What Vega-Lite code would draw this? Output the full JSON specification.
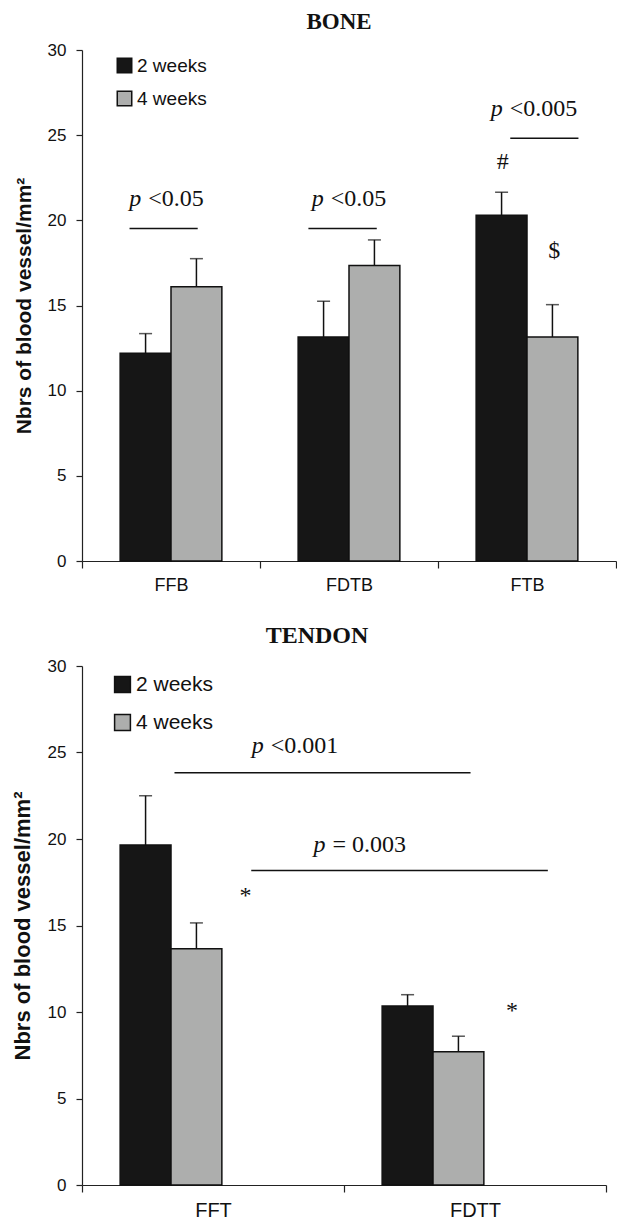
{
  "$schema": "https://vega.github.io/schema/vega-lite/v6.json",
  "padding": {"left": 11, "top": 11, "right": 0, "bottom": 0},
  "background": "white",
  "spacing": 30,
  "resolve": {"scale": {"color": "independent"}, "legend": {"color": "independent"}},
  "datasets": {
    "bone": [
      {"site": "FFB", "period": "2 weeks", "mean": 12.2, "upper": 13.35},
      {"site": "FFB", "period": "4 weeks", "mean": 16.1, "upper": 17.75},
      {"site": "FDTB", "period": "2 weeks", "mean": 13.15, "upper": 15.25},
      {"site": "FDTB", "period": "4 weeks", "mean": 17.35, "upper": 18.85},
      {"site": "FTB", "period": "2 weeks", "mean": 20.3, "upper": 21.65},
      {"site": "FTB", "period": "4 weeks", "mean": 13.15, "upper": 15.05}
    ],
    "boneNotes": [
      {"x": 0.353, "y": 20.85, "p": "p", "rest": "<0.05"},
      {"x": 1.378, "y": 20.85, "p": "p", "rest": "<0.05"},
      {"x": 2.383, "y": 26.13, "p": "p", "rest": "<0.005"}
    ],
    "boneLines": [
      {"x": 0.267, "x2": 0.65, "y": 19.52},
      {"x": 1.272, "x2": 1.656, "y": 19.52},
      {"x": 2.406, "x2": 2.789, "y": 24.82}
    ],
    "boneSyms": [
      {"x": 2.364, "y": 23.4, "sym": "#"},
      {"x": 2.653, "y": 18.2, "sym": "$"}
    ],
    "tendon": [
      {"site": "FFT", "period": "2 weeks", "mean": 19.65, "upper": 22.5},
      {"site": "FFT", "period": "4 weeks", "mean": 13.65, "upper": 15.15},
      {"site": "FDTT", "period": "2 weeks", "mean": 10.35, "upper": 11.0},
      {"site": "FDTT", "period": "4 weeks", "mean": 7.7, "upper": 8.6}
    ],
    "tendonNotes": [
      {"x": 0.707, "y": 24.96, "p": "p", "rest": "<0.001"},
      {"x": 0.943, "y": 19.24, "p": "p", "rest": "= 0.003"}
    ],
    "tendonLines": [
      {"x": 0.353, "x2": 1.483, "y": 23.83},
      {"x": 0.646, "x2": 1.778, "y": 18.18}
    ],
    "tendonSyms": [
      {"x": 0.624, "y": 16.7, "sym": "*"},
      {"x": 1.641, "y": 10.08, "sym": "*"}
    ]
  },
  "config": {
    "view": {"stroke": null},
    "axis": {"grid": false, "labelFont": "Liberation Sans", "labelColor": "#111", "domainColor": "#222", "tickColor": "#222", "domainWidth": 1.2, "tickWidth": 1.2, "titleFont": "Liberation Sans", "titleColor": "#111"},
    "axisY": {"tickSize": 6, "labelPadding": 10, "labelFontSize": 17, "titleFontWeight": "bold", "titleFontSize": 21, "titlePadding": 13},
    "axisX": {"tickBand": "extent", "labelAngle": 0, "tickSize": 7, "labelPadding": 8, "labelFontSize": 18, "title": null},
    "title": {"font": "Liberation Serif", "fontWeight": "bold", "fontSize": 23, "color": "#111"},
    "legend": {"symbolType": "square", "symbolSize": 210, "symbolStrokeColor": "#111", "symbolStrokeWidth": 1.5, "labelFont": "Liberation Sans", "labelFontSize": 19, "labelColor": "#111", "labelOffset": 3, "rowPadding": 12, "padding": 0}
  },
  "vconcat": [
    {
      "title": {"text": "BONE", "dx": -10, "offset": 7},
      "width": 534,
      "height": 511,
      "layer": [
        {
          "data": {"name": "bone"},
          "layer": [
            {
              "mark": {"type": "bar", "stroke": "#111", "strokeWidth": 1.5},
              "encoding": {
                "x": {"field": "site", "type": "nominal", "sort": ["FFB", "FDTB", "FTB"], "scale": {"paddingInner": 0, "paddingOuter": 0}},
                "xOffset": {"field": "period", "type": "nominal", "scale": {"paddingOuter": 0.75, "paddingInner": 0}},
                "y": {"field": "mean", "type": "quantitative", "scale": {"domain": [0, 30], "nice": false}, "title": "Nbrs of blood vessel/mm²", "axis": {"values": [0, 5, 10, 15, 20, 25, 30]}},
                "color": {"field": "period", "type": "nominal", "scale": {"domain": ["2 weeks", "4 weeks"], "range": ["#161616", "#adaead"]}, "legend": {"title": null, "orient": "none", "legendX": 33, "legendY": 6}}
              }
            },
            {
              "mark": {"type": "rule", "color": "#111", "strokeWidth": 1.5},
              "encoding": {
                "x": {"field": "site", "type": "nominal", "sort": ["FFB", "FDTB", "FTB"]},
                "xOffset": {"field": "period", "type": "nominal"},
                "y": {"field": "mean", "type": "quantitative", "title": "Nbrs of blood vessel/mm²"},
                "y2": {"field": "upper"}
              }
            },
            {
              "mark": {"type": "tick", "color": "#111", "size": 13, "thickness": 1.5, "orient": "horizontal"},
              "encoding": {
                "x": {"field": "site", "type": "nominal", "sort": ["FFB", "FDTB", "FTB"]},
                "xOffset": {"field": "period", "type": "nominal"},
                "y": {"field": "upper", "type": "quantitative", "title": "Nbrs of blood vessel/mm²"}
              }
            }
          ]
        },
        {
          "layer": [
            {
              "data": {"name": "boneLines"},
              "mark": {"type": "rule", "color": "#111", "strokeWidth": 1.5},
              "encoding": {
                "x": {"field": "x", "type": "quantitative", "scale": {"domain": [0, 3], "nice": false, "zero": false}, "axis": null},
                "x2": {"field": "x2"},
                "y": {"field": "y", "type": "quantitative", "title": "Nbrs of blood vessel/mm²"}
              }
            },
            {
              "data": {"name": "boneNotes"},
              "mark": {"type": "text", "font": "Liberation Serif", "fontSize": 24, "fontStyle": "italic", "align": "right", "baseline": "alphabetic", "dx": -3.5, "fill": "#111"},
              "encoding": {
                "x": {"field": "x", "type": "quantitative"},
                "y": {"field": "y", "type": "quantitative", "title": "Nbrs of blood vessel/mm²"},
                "text": {"field": "p"}
              }
            },
            {
              "data": {"name": "boneNotes"},
              "mark": {"type": "text", "font": "Liberation Serif", "fontSize": 24, "align": "left", "baseline": "alphabetic", "dx": 3.5, "fill": "#111"},
              "encoding": {
                "x": {"field": "x", "type": "quantitative"},
                "y": {"field": "y", "type": "quantitative", "title": "Nbrs of blood vessel/mm²"},
                "text": {"field": "rest"}
              }
            },
            {
              "data": {"name": "boneSyms"},
              "mark": {"type": "text", "font": "Liberation Serif", "fontSize": 24, "align": "center", "baseline": "middle", "fill": "#111"},
              "encoding": {
                "x": {"field": "x", "type": "quantitative"},
                "y": {"field": "y", "type": "quantitative", "title": "Nbrs of blood vessel/mm²"},
                "text": {"field": "sym"}
              }
            }
          ]
        }
      ],
      "resolve": {"scale": {"x": "independent"}}
    },
    {
      "title": {"text": "TENDON", "dx": -27, "offset": 9, "fontSize": 24},
      "width": 524,
      "height": 519,
      "layer": [
        {
          "data": {"name": "tendon"},
          "layer": [
            {
              "mark": {"type": "bar", "stroke": "#111", "strokeWidth": 1.5},
              "encoding": {
                "x": {"field": "site", "type": "nominal", "sort": ["FFT", "FDTT"], "scale": {"paddingInner": 0, "paddingOuter": 0}, "axis": {"labelFontSize": 20}},
                "xOffset": {"field": "period", "type": "nominal", "scale": {"paddingOuter": 0.73, "paddingInner": 0}},
                "y": {"field": "mean", "type": "quantitative", "scale": {"domain": [0, 30], "nice": false}, "title": "Nbrs of blood vessel/mm²", "axis": {"titleFontSize": 22, "values": [0, 5, 10, 15, 20, 25, 30]}},
                "color": {"field": "period", "type": "nominal", "scale": {"domain": ["2 weeks", "4 weeks"], "range": ["#161616", "#adaead"]}, "legend": {"title": null, "orient": "none", "legendX": 30, "legendY": 8, "labelFontSize": 21, "symbolSize": 250, "rowPadding": 15}}
              }
            },
            {
              "mark": {"type": "rule", "color": "#111", "strokeWidth": 1.5},
              "encoding": {
                "x": {"field": "site", "type": "nominal", "sort": ["FFT", "FDTT"]},
                "xOffset": {"field": "period", "type": "nominal"},
                "y": {"field": "mean", "type": "quantitative", "title": "Nbrs of blood vessel/mm²"},
                "y2": {"field": "upper"}
              }
            },
            {
              "mark": {"type": "tick", "color": "#111", "size": 13, "thickness": 1.5, "orient": "horizontal"},
              "encoding": {
                "x": {"field": "site", "type": "nominal", "sort": ["FFT", "FDTT"]},
                "xOffset": {"field": "period", "type": "nominal"},
                "y": {"field": "upper", "type": "quantitative", "title": "Nbrs of blood vessel/mm²"}
              }
            }
          ]
        },
        {
          "layer": [
            {
              "data": {"name": "tendonLines"},
              "mark": {"type": "rule", "color": "#111", "strokeWidth": 1.5},
              "encoding": {
                "x": {"field": "x", "type": "quantitative", "scale": {"domain": [0, 2], "nice": false, "zero": false}, "axis": null},
                "x2": {"field": "x2"},
                "y": {"field": "y", "type": "quantitative", "title": "Nbrs of blood vessel/mm²"}
              }
            },
            {
              "data": {"name": "tendonNotes"},
              "mark": {"type": "text", "font": "Liberation Serif", "fontSize": 24, "fontStyle": "italic", "align": "right", "baseline": "alphabetic", "dx": -3.5, "fill": "#111"},
              "encoding": {
                "x": {"field": "x", "type": "quantitative"},
                "y": {"field": "y", "type": "quantitative", "title": "Nbrs of blood vessel/mm²"},
                "text": {"field": "p"}
              }
            },
            {
              "data": {"name": "tendonNotes"},
              "mark": {"type": "text", "font": "Liberation Serif", "fontSize": 24, "align": "left", "baseline": "alphabetic", "dx": 3.5, "fill": "#111"},
              "encoding": {
                "x": {"field": "x", "type": "quantitative"},
                "y": {"field": "y", "type": "quantitative", "title": "Nbrs of blood vessel/mm²"},
                "text": {"field": "rest"}
              }
            },
            {
              "data": {"name": "tendonSyms"},
              "mark": {"type": "text", "font": "Liberation Serif", "fontSize": 24, "align": "center", "baseline": "middle", "fill": "#111"},
              "encoding": {
                "x": {"field": "x", "type": "quantitative"},
                "y": {"field": "y", "type": "quantitative", "title": "Nbrs of blood vessel/mm²"},
                "text": {"field": "sym"}
              }
            }
          ]
        }
      ],
      "resolve": {"scale": {"x": "independent"}}
    }
  ]
}
